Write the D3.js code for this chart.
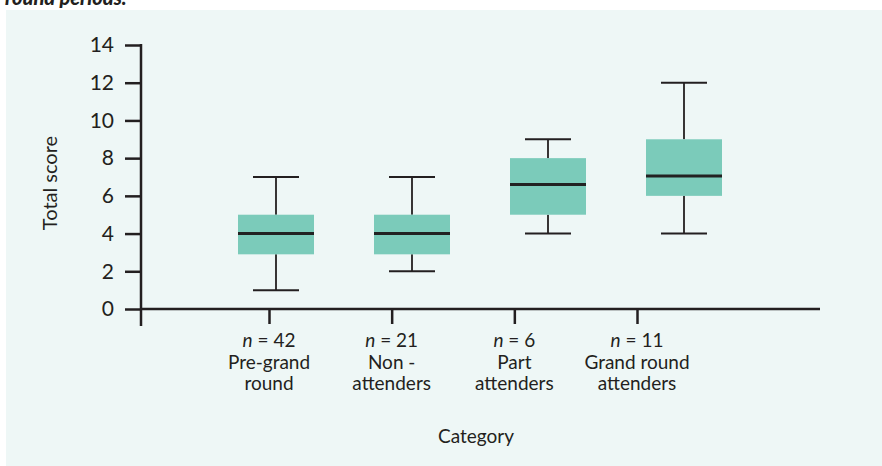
<!DOCTYPE html>
<html><head><meta charset="utf-8">
<script src="https://cdn.jsdelivr.net/npm/d3@7"></script>
<style>html,body{margin:0;padding:0;background:#fff;}svg{display:block;}</style>
</head><body>
<script>
const categories = ["Pre-grand round", "Non - attenders", "Part attenders", "Grand round attenders"];
const labelLines = [["Pre-grand", "round"], ["Non -", "attenders"], ["Part", "attenders"], ["Grand round", "attenders"]];
const nValues = [42, 21, 6, 11];
const whiskerLow = [1, 2, 4, 4];
const q1 = [2.9, 2.9, 5, 6];
const median = [4, 4, 6.6, 7.05];
const q3 = [5, 5, 8, 9];
const whiskerHigh = [7, 7, 9, 12];
const yTicks = [0, 2, 4, 6, 8, 10, 12, 14];

const W = 882, H = 466;
const ink = "#231f20";
const font = "Lato, 'Open Sans', sans-serif";
const svg = d3.select("body").append("svg").attr("width", W).attr("height", H);

svg.append("rect").attr("x", 6).attr("y", 10).attr("width", W - 6).attr("height", H - 10).attr("fill", "#eef7f6");
svg.append("text").attr("x", 5).attr("y", 5).attr("font-family", font).attr("font-weight", 900)
  .attr("font-style", "italic").attr("font-size", 20).attr("fill", ink).text("round periods.");

const y = d3.scaleLinear().domain([0, 14]).range([309, 45]);
const xTick = d3.scalePoint().domain(categories).range([269, 637]);
const xBox = d3.scalePoint().domain(categories).range([276, 684]);

// y axis
const yAxis = d3.axisLeft(y).tickValues(yTicks).tickSize(16).tickPadding(11).tickSizeOuter(0);
const gy = svg.append("g").attr("transform", "translate(141,0)").call(yAxis);
gy.select(".domain").remove();
gy.selectAll(".tick line").attr("stroke", ink).attr("stroke-width", 2.5);
gy.selectAll(".tick text").attr("font-family", font).attr("font-size", 21).attr("fill", ink);
svg.append("line").attr("x1", 141).attr("x2", 141).attr("y1", 44).attr("y2", 326).attr("stroke", ink).attr("stroke-width", 2.5);

// x axis
svg.append("line").attr("x1", 140).attr("x2", 820).attr("y1", y(0)).attr("y2", y(0)).attr("stroke", ink).attr("stroke-width", 2.5);
const xAxis = d3.axisBottom(xTick).tickSize(15).tickFormat("");
const gx = svg.append("g").attr("transform", `translate(0,${y(0)})`).call(xAxis);
gx.select(".domain").remove();
gx.selectAll(".tick line").attr("stroke", ink).attr("stroke-width", 2.5);

// boxes
const bw = 76, cw = 46;
categories.forEach((c, i) => {
  const cx = xBox(c);
  const g = svg.append("g");
  g.append("line").attr("x1", cx).attr("x2", cx).attr("y1", y(whiskerHigh[i])).attr("y2", y(q3[i])).attr("stroke", ink).attr("stroke-width", 1.8);
  g.append("line").attr("x1", cx).attr("x2", cx).attr("y1", y(q1[i])).attr("y2", y(whiskerLow[i])).attr("stroke", ink).attr("stroke-width", 1.8);
  g.append("line").attr("x1", cx - cw / 2).attr("x2", cx + cw / 2).attr("y1", y(whiskerHigh[i])).attr("y2", y(whiskerHigh[i])).attr("stroke", ink).attr("stroke-width", 2);
  g.append("line").attr("x1", cx - cw / 2).attr("x2", cx + cw / 2).attr("y1", y(whiskerLow[i])).attr("y2", y(whiskerLow[i])).attr("stroke", ink).attr("stroke-width", 2);
  g.append("rect").attr("x", cx - bw / 2).attr("width", bw).attr("y", y(q3[i])).attr("height", y(q1[i]) - y(q3[i])).attr("fill", "#7bcbba");
  g.append("line").attr("x1", cx - bw / 2).attr("x2", cx + bw / 2).attr("y1", y(median[i])).attr("y2", y(median[i])).attr("stroke", "#222").attr("stroke-width", 3);
});

// category labels
categories.forEach((c, i) => {
  const x = xTick(c);
  const t = svg.append("text").attr("x", x).attr("y", 347).attr("text-anchor", "middle")
    .attr("font-family", font).attr("font-size", 19).attr("fill", ink);
  t.append("tspan").attr("font-style", "italic").text("n");
  t.append("tspan").text(" = " + nValues[i]);
  labelLines[i].forEach((ln, j) => {
    svg.append("text").attr("x", x).attr("y", 369 + j * 21).attr("text-anchor", "middle")
      .attr("font-family", font).attr("font-size", 19).attr("fill", ink).text(ln);
  });
});

svg.append("text").attr("x", 476).attr("y", 443).attr("text-anchor", "middle")
  .attr("font-family", font).attr("font-size", 19).attr("fill", ink).text("Category");
svg.append("text").attr("transform", "translate(57,183) rotate(-90)").attr("text-anchor", "middle")
  .attr("font-family", font).attr("font-size", 20).attr("fill", ink).text("Total score");
</script>
</body></html>
